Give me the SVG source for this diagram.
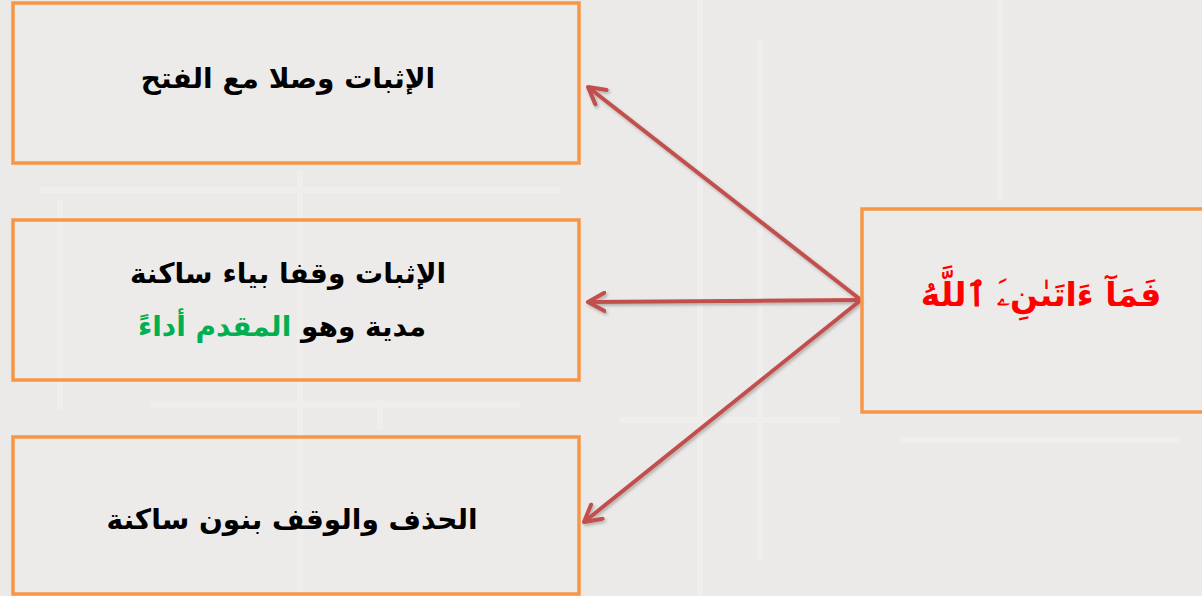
<svg xmlns="http://www.w3.org/2000/svg" width="1202" height="596" viewBox="0 0 1202 596">
  <defs>
    <style>
      .box { fill: #F1EFED; fill-opacity: 0.35; stroke: #F79646; stroke-width: 3.5; }
      .t { font-family: "DejaVu Sans", "Liberation Sans", sans-serif; font-weight: bold; font-size: 28px; fill: #000; text-anchor: middle; direction: rtl; }
      .green { fill: #00B050; }
      .red { font-family: "DejaVu Sans", "Liberation Sans", sans-serif; font-weight: bold; font-size: 33px; fill: #FF0000; text-anchor: middle; direction: rtl; }
      .conn { stroke: #C0504D; stroke-width: 4; fill: none; }
    </style>
    <marker id="arrow" viewBox="0 0 12 12" refX="10" refY="6" markerWidth="5.5" markerHeight="5.5" orient="auto" markerUnits="strokeWidth">
      <path d="M1,1 L10,6 L1,11" fill="none" stroke="#C0504D" stroke-width="2.2" stroke-linecap="round" stroke-linejoin="round"/>
    </marker>
    <filter id="shadow" x="-10%" y="-10%" width="120%" height="120%">
      <feDropShadow dx="1.5" dy="2" stdDeviation="1.5" flood-color="#000" flood-opacity="0.25"/>
    </filter>
  </defs>
  <rect x="0" y="0" width="1202" height="596" fill="#ECEAE8"/>
  <g opacity="0.2" stroke="#FFFFFF" stroke-width="6" fill="none">
    <path d="M40,190 L560,190 M60,200 L60,410 M300,170 L300,600 M700,0 L700,596 M760,40 L760,560 M620,420 L840,420 M900,440 L1180,440 M1000,0 L1000,200 M380,400 L380,430 M150,405 L520,405"/>
  </g>

  <g id="connectors" filter="url(#shadow)">
    <line class="conn" x1="861" y1="300" x2="588" y2="87" marker-end="url(#arrow)"/>
    <line class="conn" x1="861" y1="300" x2="588" y2="302" marker-end="url(#arrow)"/>
    <line class="conn" x1="861" y1="300" x2="584" y2="522" marker-end="url(#arrow)"/>
  </g>

  <g id="node-wasl">
    <rect class="box" x="13" y="3" width="566" height="160"/>
    <text class="t" x="288" y="88">الإثبات وصلا مع الفتح</text>
  </g>

  <g id="node-waqf-ya">
    <rect class="box" x="13" y="220" width="566" height="160"/>
    <text class="t" x="288" y="283">الإثبات وقفا بياء ساكنة</text>
    <text class="t" x="282" y="336">مدية وهو <tspan class="green">المقدم أداءً</tspan></text>
  </g>

  <g id="node-hadhf">
    <rect class="box" x="13" y="437" width="566" height="157"/>
    <text class="t" x="292" y="529">الحذف والوقف بنون ساكنة</text>
  </g>

  <g id="node-ayah">
    <rect class="box" x="862" y="209" width="344" height="203"/>
    <text class="red" x="1041" y="306">فَمَآ ءَاتَىٰنِۦَ ٱللَّهُ</text>
  </g>
</svg>
